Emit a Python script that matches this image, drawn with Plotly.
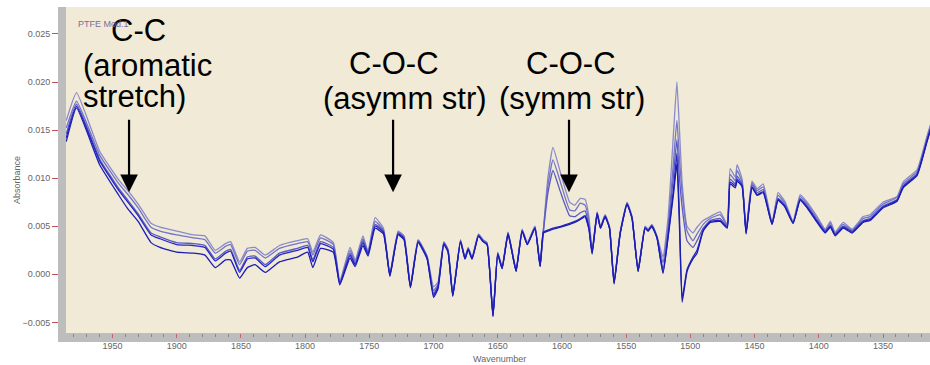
import plotly.graph_objects as go

wavenumber = [
    1986, 1978, 1960, 1945, 1938, 1930, 1920, 1913, 1900, 1887,
    1878, 1870, 1862, 1858, 1851, 1845, 1839, 1831, 1820, 1806,
    1798, 1794, 1788, 1778, 1773, 1765, 1761, 1755, 1751, 1745.5,
    1739, 1734, 1727.6, 1723, 1718, 1712, 1705, 1700, 1696.5, 1692,
    1688.7, 1685, 1679, 1675.5, 1673, 1670, 1665, 1661.4, 1658.3, 1653.7,
    1650, 1646.6, 1642, 1638, 1635.7, 1631, 1627, 1621, 1617, 1614.5,
    1611, 1607, 1601, 1594, 1590, 1585.7, 1582, 1579, 1576.5, 1572.6,
    1570, 1566.4, 1563, 1559.4, 1554.7, 1549.3, 1545.4, 1540.7, 1535.3, 1532.9,
    1530, 1526, 1521.3, 1517.3, 1513, 1510.5, 1508.5, 1506.4, 1502.6, 1498,
    1494.8, 1490, 1484.6, 1476.8, 1471.3, 1469, 1465, 1463.6, 1459.7, 1456.6,
    1452, 1448, 1443.3, 1436.4, 1431.7, 1426.4, 1420, 1414.5, 1409, 1401.3,
    1395, 1391, 1387.3, 1381, 1374, 1365.5, 1360, 1350, 1339, 1334.3,
    1323.4, 1315.7, 1313,
]

spectrum_1 = [
    0.0160, 0.0189, 0.0128, 0.0098, 0.0087, 0.0073, 0.0053, 0.0049, 0.0045, 0.0041,
    0.0040, 0.0025, 0.0032, 0.0034, 0.0013, 0.0027, 0.0028, 0.0020, 0.0030, 0.0035,
    0.0037, 0.0023, 0.0041, 0.0033, -0.0007, 0.0028, 0.0015, 0.0040, 0.0024, 0.0059,
    0.0048, 0.0001, 0.0045, 0.0040, -0.0011, 0.0036, 0.0019, -0.0013, -0.0008, 0.0034,
    0.0026, -0.0020, 0.0036, 0.0018, 0.0028, 0.0018, 0.0042, 0.0036, 0.0033, -0.0041,
    0.0023, 0.0008, 0.0044, 0.0019, 0.0005, 0.0047, 0.0033, 0.0050, 0.0010, 0.0046,
    0.0100, 0.0132, 0.0105, 0.0075, 0.0072, 0.0079, 0.0078, 0.0060, 0.0025, 0.0065,
    0.0050, 0.0062, 0.0050, -0.0007, 0.0044, 0.0075, 0.0060, 0.0005, 0.0050, 0.0047,
    0.0052, 0.0040, 0.0018, 0.0060, 0.0150, 0.0200, 0.0150, 0.0095, 0.0050, 0.0043,
    0.0049, 0.0056, 0.0060, 0.0065, 0.0052, 0.0110, 0.0101, 0.0114, 0.0099, 0.0046,
    0.0097, 0.0089, 0.0094, 0.0054, 0.0085, 0.0076, 0.0055, 0.0083, 0.0075, 0.0060,
    0.0047, 0.0055, 0.0044, 0.0054, 0.0047, 0.0060, 0.0062, 0.0075, 0.0081, 0.0096,
    0.0109, 0.0144, 0.0156,
]

spectrum_2 = [
    0.0152, 0.0180, 0.0124, 0.0094, 0.0083, 0.0069, 0.0049, 0.0045, 0.0041, 0.0038,
    0.0036, 0.0022, 0.0029, 0.0031, 0.0010, 0.0024, 0.0025, 0.0017, 0.0027, 0.0032,
    0.0034, 0.0020, 0.0038, 0.0031, -0.0008, 0.0025, 0.0013, 0.0037, 0.0023, 0.0055,
    0.0046, 0.0000, 0.0044, 0.0039, -0.0012, 0.0035, 0.0018, -0.0017, -0.0010, 0.0033,
    0.0025, -0.0021, 0.0035, 0.0017, 0.0027, 0.0017, 0.0041, 0.0035, 0.0032, -0.0042,
    0.0022, 0.0007, 0.0043, 0.0018, 0.0004, 0.0046, 0.0032, 0.0049, 0.0009, 0.0045,
    0.0092, 0.0119, 0.0095, 0.0067, 0.0066, 0.0074, 0.0072, 0.0055, 0.0024, 0.0064,
    0.0049, 0.0061, 0.0049, -0.0008, 0.0043, 0.0074, 0.0059, 0.0004, 0.0049, 0.0046,
    0.0051, 0.0039, 0.0012, 0.0050, 0.0120, 0.0160, 0.0120, 0.0085, 0.0045, 0.0035,
    0.0042, 0.0052, 0.0058, 0.0062, 0.0051, 0.0104, 0.0097, 0.0108, 0.0096, 0.0045,
    0.0095, 0.0087, 0.0091, 0.0053, 0.0082, 0.0074, 0.0054, 0.0081, 0.0073, 0.0058,
    0.0046, 0.0053, 0.0043, 0.0052, 0.0046, 0.0058, 0.0060, 0.0073, 0.0080, 0.0094,
    0.0107, 0.0142, 0.0154,
]

spectrum_3 = [
    0.0146, 0.0177, 0.0120, 0.0089, 0.0077, 0.0063, 0.0043, 0.0039, 0.0033, 0.0032,
    0.0030, 0.0016, 0.0024, 0.0026, 0.0004, 0.0018, 0.0019, 0.0010, 0.0022, 0.0027,
    0.0030, 0.0015, 0.0034, 0.0028, -0.0009, 0.0022, 0.0011, 0.0035, 0.0022, 0.0052,
    0.0045, -0.0001, 0.0043, 0.0038, -0.0013, 0.0035, 0.0018, -0.0020, -0.0012, 0.0033,
    0.0025, -0.0022, 0.0035, 0.0017, 0.0027, 0.0017, 0.0041, 0.0035, 0.0032, -0.0043,
    0.0022, 0.0007, 0.0043, 0.0018, 0.0004, 0.0046, 0.0032, 0.0049, 0.0009, 0.0044,
    0.0084, 0.0108, 0.0085, 0.0061, 0.0060, 0.0064, 0.0066, 0.0050, 0.0023, 0.0064,
    0.0049, 0.0061, 0.0049, -0.0009, 0.0043, 0.0074, 0.0059, 0.0004, 0.0049, 0.0046,
    0.0051, 0.0039, 0.0006, 0.0045, 0.0105, 0.0140, 0.0100, 0.0070, 0.0035, 0.0028,
    0.0035, 0.0048, 0.0056, 0.0058, 0.0050, 0.0099, 0.0094, 0.0102, 0.0094, 0.0044,
    0.0093, 0.0085, 0.0088, 0.0053, 0.0079, 0.0072, 0.0054, 0.0079, 0.0071, 0.0056,
    0.0045, 0.0051, 0.0042, 0.0050, 0.0045, 0.0056, 0.0058, 0.0071, 0.0078, 0.0092,
    0.0105, 0.0140, 0.0152,
]

spectrum_4 = [
    0.0142, 0.0175, 0.0118, 0.0087, 0.0075, 0.0061, 0.0041, 0.0037, 0.0031, 0.0030,
    0.0028, 0.0014, 0.0022, 0.0024, 0.0002, 0.0016, 0.0017, 0.0008, 0.0020, 0.0025,
    0.0028, 0.0013, 0.0032, 0.0026, -0.0010, 0.0020, 0.0010, 0.0033, 0.0021, 0.0050,
    0.0044, -0.0001, 0.0042, 0.0037, -0.0013, 0.0034, 0.0017, -0.0022, -0.0013, 0.0032,
    0.0024, -0.0022, 0.0034, 0.0016, 0.0026, 0.0016, 0.0040, 0.0034, 0.0031, -0.0043,
    0.0021, 0.0006, 0.0042, 0.0017, 0.0003, 0.0045, 0.0031, 0.0048, 0.0008, 0.0044,
    0.0046, 0.0048, 0.0050, 0.0053, 0.0055, 0.0058, 0.0061, 0.0048, 0.0022, 0.0063,
    0.0048, 0.0060, 0.0048, -0.0009, 0.0042, 0.0073, 0.0058, 0.0003, 0.0048, 0.0045,
    0.0050, 0.0038, 0.0002, 0.0040, 0.0090, 0.0126, 0.0060, -0.0025, 0.0005, 0.0018,
    0.0025, 0.0046, 0.0055, 0.0056, 0.0049, 0.0096, 0.0092, 0.0099, 0.0092, 0.0043,
    0.0091, 0.0083, 0.0086, 0.0052, 0.0078, 0.0071, 0.0053, 0.0078, 0.0070, 0.0055,
    0.0044, 0.0050, 0.0041, 0.0049, 0.0044, 0.0055, 0.0057, 0.0070, 0.0077, 0.0091,
    0.0104, 0.0139, 0.0151,
]

spectrum_5 = [
    0.0138, 0.0173, 0.0114, 0.0082, 0.0068, 0.0055, 0.0033, 0.0028, 0.0023, 0.0022,
    0.0020, 0.0007, 0.0015, 0.0015, -0.0004, 0.0007, 0.0010, 0.0002, 0.0013, 0.0018,
    0.0023, 0.0007, 0.0027, 0.0023, -0.0011, 0.0017, 0.0008, 0.0030, 0.0019, 0.0048,
    0.0042, -0.0002, 0.0041, 0.0036, -0.0014, 0.0033, 0.0016, -0.0024, -0.0015, 0.0031,
    0.0023, -0.0023, 0.0034, 0.0016, 0.0026, 0.0016, 0.0040, 0.0034, 0.0031, -0.0044,
    0.0021, 0.0006, 0.0042, 0.0017, 0.0003, 0.0045, 0.0031, 0.0048, 0.0008, 0.0043,
    0.0045, 0.0047, 0.0049, 0.0052, 0.0054, 0.0057, 0.0060, 0.0047, 0.0021, 0.0063,
    0.0048, 0.0060, 0.0048, -0.0010, 0.0042, 0.0073, 0.0058, 0.0003, 0.0048, 0.0045,
    0.0050, 0.0038, 0.0001, 0.0039, 0.0085, 0.0115, 0.0050, -0.0029, 0.0003, 0.0016,
    0.0022, 0.0045, 0.0054, 0.0055, 0.0048, 0.0094, 0.0090, 0.0097, 0.0091, 0.0042,
    0.0090, 0.0082, 0.0085, 0.0052, 0.0077, 0.0070, 0.0053, 0.0077, 0.0069, 0.0054,
    0.0043, 0.0049, 0.0040, 0.0048, 0.0043, 0.0054, 0.0056, 0.0069, 0.0076, 0.0090,
    0.0103, 0.0138, 0.0150,
]

x_tick_values = [1950, 1900, 1850, 1800, 1750, 1700, 1650, 1600, 1550, 1500, 1450, 1400, 1350]
y_tick_values = [-0.005, 0.000, 0.005, 0.010, 0.015, 0.020, 0.025]

series = [spectrum_1, spectrum_2, spectrum_3, spectrum_4, spectrum_5]
colors = ["#8a8acc", "#7474c4", "#5a5ac2", "#2626c8", "#1c1cb4"]

fig = go.Figure()
for vals, col in zip(series, colors):
    fig.add_trace(go.Scatter(
        x=wavenumber, y=vals, mode="lines",
        line=dict(color=col, width=1.3, shape="spline", smoothing=0.4),
        showlegend=False, hoverinfo="skip",
    ))

W, H = 930, 365
ml, mr, mt, mb = 66, 0, 7, 32
pw, ph = W - ml - mr, H - mt - mb

def px(xp):
    return (xp - ml) / pw

def py(yp):
    return (H - mb - yp) / ph

tick_font = dict(family="Liberation Sans, Arial, sans-serif", size=9, color="#666666")

fig.update_layout(
    width=W, height=H,
    margin=dict(l=ml, r=mr, t=mt, b=mb, pad=0),
    paper_bgcolor="white",
    plot_bgcolor="#f0ead6",
    xaxis=dict(
        range=[1986.2, 1313.4], tickvals=x_tick_values,
        showgrid=False, zeroline=False, showline=False,
        ticks="outside", ticklen=4, tickwidth=1, tickcolor="#d06070",
        tickfont=tick_font,
        minor=dict(dtick=10, ticks="outside", ticklen=3, tickcolor="#888888", showgrid=False),
    ),
    yaxis=dict(
        range=[-0.0061, 0.0278], tickvals=y_tick_values, tickformat=".3f",
        showgrid=False, zeroline=False, showline=False,
        ticks="outside", ticklen=13, tickwidth=1, tickcolor="#c05060",
        tickfont=tick_font,
    ),
    shapes=[
        dict(type="rect", xref="paper", yref="paper",
             x0=px(58), x1=px(66), y0=py(341), y1=1,
             fillcolor="#bdbdbd", line=dict(width=0), layer="above"),
        dict(type="rect", xref="paper", yref="paper",
             x0=px(58), x1=1, y0=py(342), y1=0,
             fillcolor="#bdbdbd", line=dict(width=0), layer="below"),
    ],
)

big = dict(family="Liberation Sans, Arial, sans-serif", size=31, color="black")
labels = [
    ("C-C", 110, 30), ("(aromatic", 82, 66), ("stretch)", 82, 97),
    ("C-O-C", 348, 63), ("(asymm str)", 322, 98),
    ("C-O-C", 525, 63), ("(symm str)", 498, 98),
]
annotations = []
for txt, xl, yc in labels:
    annotations.append(dict(text=txt, xref="paper", yref="paper", x=px(xl), y=py(yc),
                            xanchor="left", yanchor="middle", showarrow=False, font=big,
                            borderpad=0))

arrow_targets = [(1937.1, 0.00854), (1731.5, 0.00854), (1594.5, 0.00854)]
for wx, wy in arrow_targets:
    annotations.append(dict(x=wx, y=wy, xref="x", yref="y", text="", showarrow=True,
                            ax=0, ay=-74, arrowhead=2, arrowsize=1.6, arrowwidth=2.2,
                            arrowcolor="black"))

small = dict(family="Liberation Sans, Arial, sans-serif", size=9, color="#666666")
annotations.append(dict(text="PTFE Mod.1", xref="paper", yref="paper", x=px(76), y=py(24),
                        xanchor="left", yanchor="middle", showarrow=False,
                        font=dict(family="Liberation Sans, Arial, sans-serif", size=9, color="#806a9a")))
annotations.append(dict(text="Wavenumber", xref="paper", yref="paper", x=px(500), y=py(359),
                        xanchor="center", yanchor="middle", showarrow=False, font=small))
annotations.append(dict(text="Absorbance", xref="paper", yref="paper", x=px(17), y=py(180),
                        xanchor="center", yanchor="middle", showarrow=False, font=small,
                        textangle=-90))
fig.update_layout(annotations=annotations)

fig.write_html("out.html", config={"displayModeBar": False},
               post_script="document.body.style.margin='0';document.body.style.overflow='hidden';")
